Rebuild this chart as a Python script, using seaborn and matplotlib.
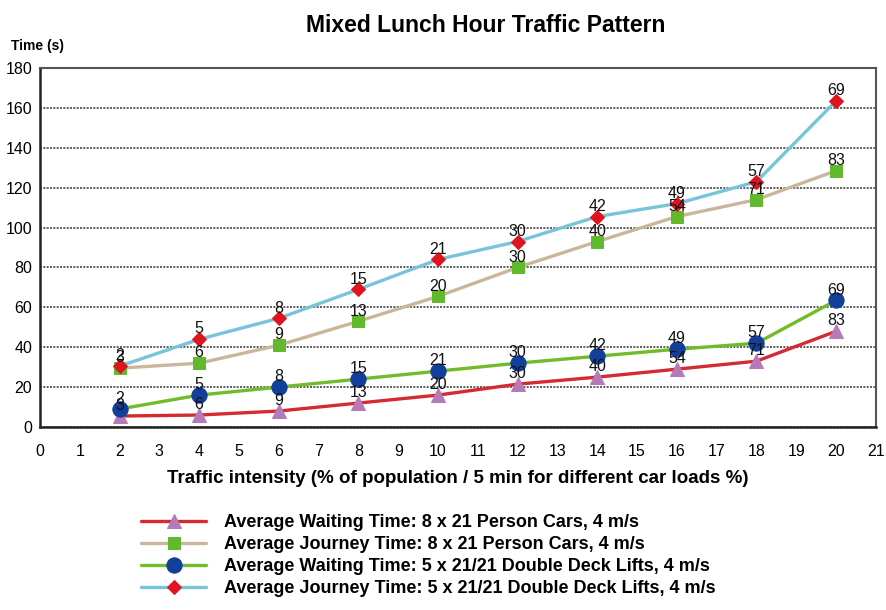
import numpy as np
import pandas as pd
import seaborn as sns
from matplotlib import pyplot as plt
from matplotlib.ticker import MultipleLocator

# traffic intensity (% of population / 5 min)
intensity = [2, 4, 6, 8, 10, 12, 14, 16, 18, 20]

# times in seconds
wait_cars = [5.5, 6, 8, 12, 16, 21.5, 25, 29, 33, 48]
journey_cars = [29.5, 32, 41, 53, 65.5, 80, 93, 105.5, 114, 128.5]
wait_dd = [9, 16, 20, 24, 28, 32, 35.5, 39, 42, 63.5]
journey_dd = [30.5, 44, 54.5, 69, 84, 93, 105.5, 112, 123, 163.5]

# car load labels (%)
load_cars = [3, 6, 9, 13, 20, 30, 40, 54, 71, 83]
load_dd = [2, 5, 8, 15, 21, 30, 42, 49, 57, 69]

names = [
    "Average Waiting Time: 8 x 21 Person Cars, 4 m/s",
    "Average Journey Time: 8 x 21 Person Cars, 4 m/s",
    "Average Waiting Time: 5 x 21/21 Double Deck Lifts, 4 m/s",
    "Average Journey Time: 5 x 21/21 Double Deck Lifts, 4 m/s",
]

sns.set_style("white")
plt.rcParams["font.family"] = ["Liberation Sans", "DejaVu Sans"]
plt.rcParams["text.color"] = "black"
plt.rcParams["xtick.color"] = "black"
plt.rcParams["ytick.color"] = "black"
plt.rcParams["axes.labelcolor"] = "black"

fig = plt.figure(figsize=(8.87, 6.10), dpi=100)
ax = fig.add_axes([0.045, 0.30, 0.9425, 0.5885])

series = [
    (wait_cars, load_cars, "#d42a32", "^", "#b57ab8", 9.5),
    (journey_cars, load_cars, "#cbb69c", "s", "#62b92e", 8),
    (wait_dd, load_dd, "#72bb2a", "o", "#123f9a", 11),
    (journey_dd, load_dd, "#78c4da", "D", "#e0141e", 7.5),
]

for (vals, loads, lc, mk, mc, ms), name in zip(series, names):
    df = pd.DataFrame({"x": intensity, "y": vals})
    sns.lineplot(
        data=df, x="x", y="y", ax=ax, color=lc, linewidth=2.4,
        marker=mk, markersize=ms, markerfacecolor=mc, markeredgecolor=mc,
        label=name,
    )

# labels drawn on top of all lines
for vals, loads, lc, mk, mc, ms in series:
    for x, y, lab in zip(intensity, vals, loads):
        ax.annotate(str(lab), (x, y), xytext=(0, 2), textcoords="offset points",
                    ha="center", va="bottom", fontsize=11.5, color="#111111",
                    zorder=5)

ax.set_xlim(0, 21)
ax.set_ylim(0, 180)
ax.xaxis.set_major_locator(MultipleLocator(1))
ax.xaxis.set_minor_locator(MultipleLocator(0.5))
ax.yaxis.set_major_locator(MultipleLocator(20))
ax.yaxis.set_minor_locator(MultipleLocator(10))
ax.tick_params(axis="both", which="both", direction="inout", color="#222222",
               width=1.3)
ax.tick_params(axis="both", which="major", length=9, labelsize=11.5)
ax.tick_params(axis="both", which="minor", length=9)
ax.tick_params(axis="x", which="major", pad=8)
ax.tick_params(axis="y", which="major", pad=1)
ax.yaxis.grid(True, which="major", linestyle=(0, (1.2, 0.8)), color="#444444",
              linewidth=1.2)
ax.xaxis.grid(False)
for side in ["left", "bottom"]:
    ax.spines[side].set_color("#222222")
    ax.spines[side].set_linewidth(1.8)
for side in ["top", "right"]:
    ax.spines[side].set_color("#555555")
    ax.spines[side].set_linewidth(1.5)

ax.set_ylabel("")
ax.set_xlabel("Traffic intensity (% of population / 5 min for different car loads %)",
              fontsize=13.5, fontweight="bold", labelpad=8)

fig.text(0.547, 0.958, "Mixed Lunch Hour Traffic Pattern", ha="center",
         va="center", fontsize=16.5, fontweight="bold")
fig.text(0.012, 0.925, "Time (s)", ha="left", va="center", fontsize=10,
         fontweight="bold")

handles, labels = ax.get_legend_handles_labels()
ax.get_legend().remove()
fig.legend(handles, labels, loc="upper left", bbox_to_anchor=(0.145, 0.178),
           frameon=False, handlelength=3.6, labelspacing=0.28, handletextpad=1.0,
           borderpad=0.2, prop={"size": 13, "weight": "bold"})

fig.savefig("out.png", dpi=100)
plt.close()
